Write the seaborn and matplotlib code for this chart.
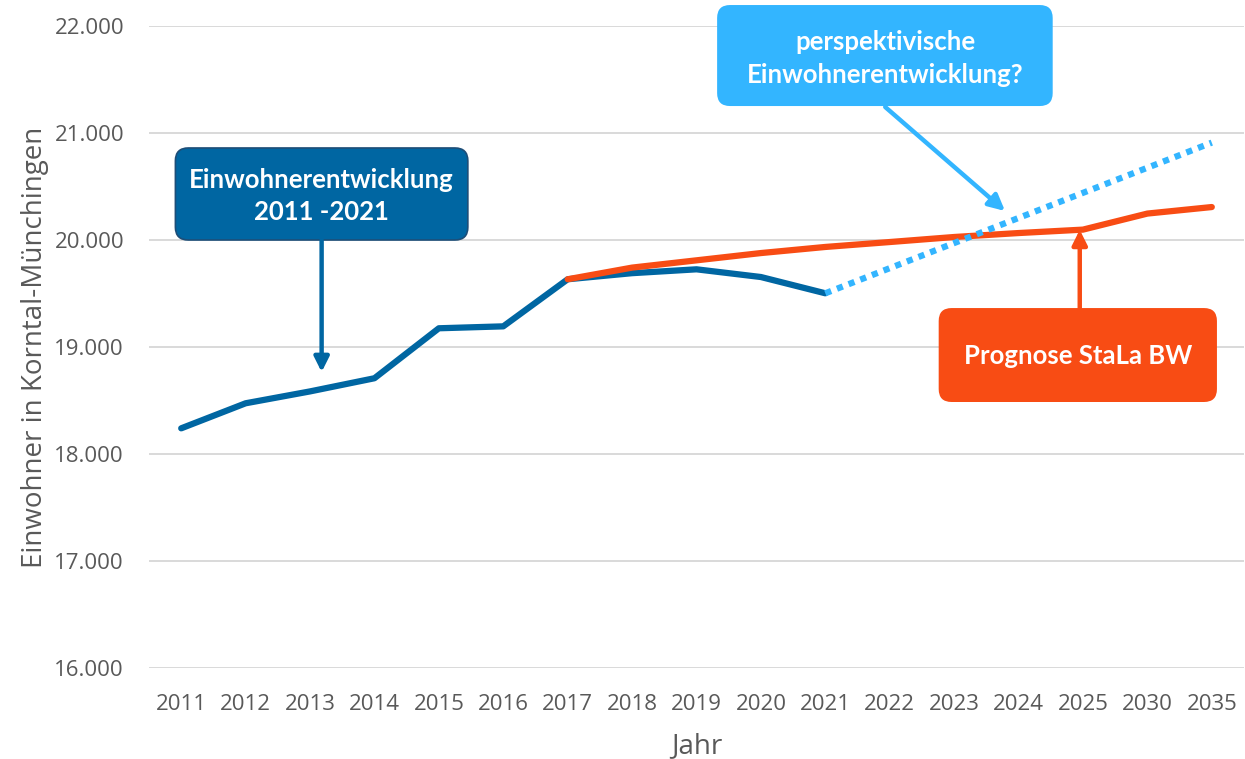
import matplotlib
matplotlib.use("Agg")
import matplotlib.pyplot as plt
import seaborn as sns
import pandas as pd
from matplotlib.patches import FancyBboxPatch
from matplotlib.ticker import FuncFormatter

# ---- data ----
years = ["2011", "2012", "2013", "2014", "2015", "2016", "2017", "2018", "2019",
         "2020", "2021", "2022", "2023", "2024", "2025", "2030", "2035"]
ist_years = ["2011", "2012", "2013", "2014", "2015", "2016", "2017", "2018", "2019", "2020", "2021"]
ist_values = [18240, 18474, 18585, 18708, 19175, 19193, 19633, 19690, 19726, 19654, 19502]
prog_years = ["2017", "2018", "2019", "2020", "2021", "2022", "2023", "2024", "2025", "2030", "2035"]
prog_values = [19633, 19742, 19810, 19878, 19935, 19981, 20028, 20065, 20097, 20247, 20308]
persp_years = ["2021", "2035"]
persp_values = [19502, 20910]
y_ticks = [16000, 17000, 18000, 19000, 20000, 21000, 22000]

label_ist = ["Einwohnerentwicklung", "2011 -2021"]
label_persp = ["perspektivische", "Einwohnerentwicklung?"]
label_prog = ["Prognose StaLa BW"]

# ---- style ----
sns.set_theme(style="white")
plt.rcParams["font.family"] = ["Open Sans", "DejaVu Sans"]

C_BLUE = "#0066A2"
C_ORANGE = "#F84C14"
C_LIGHT = "#33B5FF"
C_TEXT = "#595959"
C_GRID = "#D9D9D9"

pos = {y: i for i, y in enumerate(years)}
df_ist = pd.DataFrame({"x": [pos[y] for y in ist_years], "v": ist_values})
df_prog = pd.DataFrame({"x": [pos[y] for y in prog_years], "v": prog_values})
df_persp = pd.DataFrame({"x": [pos[y] for y in persp_years], "v": persp_values})

fig = plt.figure(figsize=(12.45, 7.59), dpi=100)
ax = fig.add_axes([149 / 1245, 91 / 759, (1244 - 149) / 1245, 642 / 759])

sns.lineplot(data=df_ist, x="x", y="v", ax=ax, color=C_BLUE, linewidth=4.5,
             solid_capstyle="round", zorder=3)
sns.lineplot(data=df_prog, x="x", y="v", ax=ax, color=C_ORANGE, linewidth=4.5,
             solid_capstyle="round", zorder=4)
sns.lineplot(data=df_persp, x="x", y="v", ax=ax, color=C_LIGHT, linewidth=4.5,
             linestyle=(0, (1, 1)), dash_capstyle="butt", zorder=5)

ax.set_xlim(-0.5, len(years) - 0.5)
ax.set_ylim(y_ticks[0], y_ticks[-1])
ax.set_xticks(range(len(years)))
ax.set_xticklabels(years)
ax.set_yticks(y_ticks)
ax.yaxis.set_major_formatter(FuncFormatter(lambda v, p: f"{v:,.0f}".replace(",", ".")))
ax.grid(axis="y", color=C_GRID, linewidth=1.4)
ax.grid(axis="x", visible=False)
ax.set_axisbelow(True)
for s in ax.spines.values():
    s.set_visible(False)
ax.tick_params(axis="both", length=0, labelsize=16, colors=C_TEXT)
ax.tick_params(axis="y", pad=18)
ax.tick_params(axis="x", pad=19)
ax.set_xlabel("Jahr", fontsize=20, color=C_TEXT, labelpad=12)
ax.set_ylabel("Einwohner in Korntal-Münchingen", fontsize=20, color=C_TEXT, labelpad=4)

# ---- callout boxes ----
ASPECT = (1095 / 17) / (642 / 6000)  # y data units per x unit for equal pixels


def box(x0, x1, y0, y1, fc, ec=None, lw=0):
    p = FancyBboxPatch((x0, y0), x1 - x0, y1 - y0,
                       boxstyle="round,pad=0,rounding_size=0.2",
                       mutation_aspect=ASPECT, fc=fc, ec=ec if ec else fc, lw=lw,
                       transform=ax.transData, clip_on=False, zorder=6)
    ax.add_patch(p)


TXT = dict(color="white", fontweight="bold", fontsize=18.5, ha="center", va="center",
           family=["Lato", "DejaVu Sans"], zorder=7, clip_on=False)

# Ist box
box(-0.09, 4.45, 20000, 20860, C_BLUE, ec="#1D4E78", lw=1.2)
ax.text(2.18, 20561, label_ist[0], **TXT)
ax.text(2.18, 20262, label_ist[1], **TXT)
ax.annotate("", xy=(2.18, 18766), xytext=(2.18, 20000),
            arrowprops=dict(arrowstyle="-|>", color=C_BLUE, lw=3.2, mutation_scale=22,
                            shrinkA=0, shrinkB=0), zorder=6)

# Perspektive box
box(8.32, 13.53, 21252, 22196, C_LIGHT)
ax.text(10.93, 21850, label_persp[0], **TXT)
ax.text(10.93, 21542, label_persp[1], **TXT)
ax.annotate("", xy=(12.79, 20271), xytext=(10.93, 21243),
            arrowprops=dict(arrowstyle="-|>", color=C_LIGHT, lw=3.2, mutation_scale=24,
                            shrinkA=0, shrinkB=0), zorder=6)

# Prognose box
box(11.76, 16.08, 18486, 19364, C_ORANGE)
ax.text(13.92, 18916, label_prog[0], **TXT)
ax.annotate("", xy=(13.95, 20095), xytext=(13.95, 19364),
            arrowprops=dict(arrowstyle="-|>", color=C_ORANGE, lw=3.2, mutation_scale=22,
                            shrinkA=0, shrinkB=0), zorder=6)

fig.savefig("out.png", dpi=100, facecolor="white")
